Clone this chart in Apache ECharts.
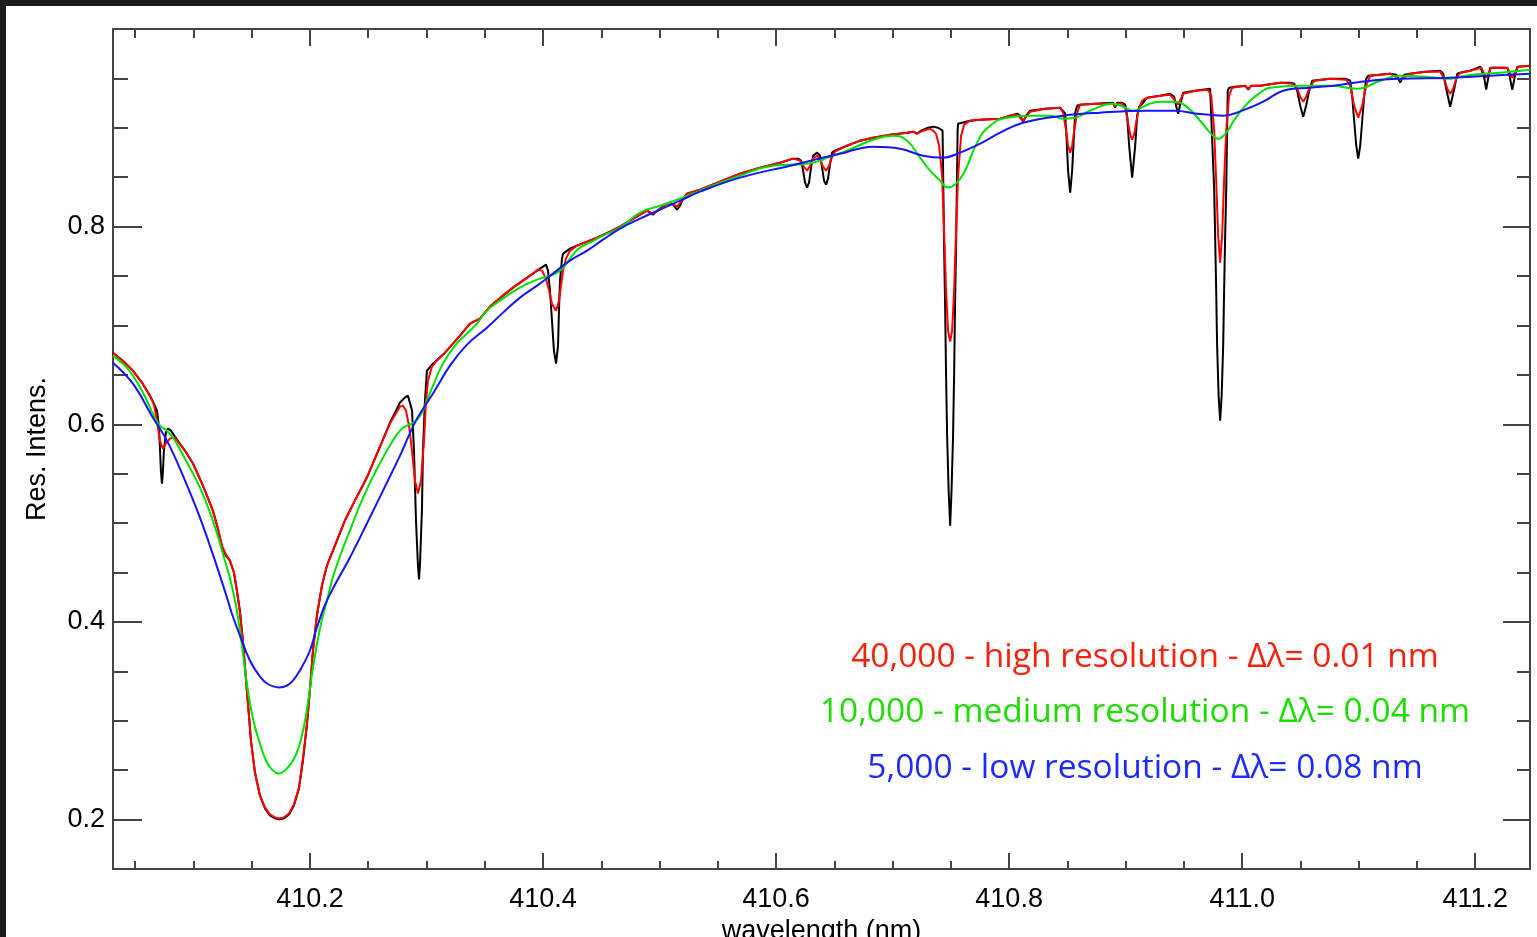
<!DOCTYPE html>
<html><head><meta charset="utf-8">
<script src="https://cdn.jsdelivr.net/npm/echarts@6/dist/echarts.min.js"></script>
<style>
html,body{margin:0;padding:0;background:#fff;overflow:hidden}
#c{position:absolute;left:0;top:0;width:1537px;height:937px;background:#fff}
.bar{position:absolute;background:#1c1c1c}
</style></head><body>
<div id="c"></div>
<div class="bar" style="left:0;top:0;width:1537px;height:6px"></div>
<div class="bar" style="left:0;top:0;width:6px;height:937px"></div>
<script>
// wavelength (nm), residual intensity
const spectrumFull = [[410.0309,0.6725],[410.0412,0.6624],[410.0481,0.6543],[410.0558,0.6422],[410.0627,0.6290],[410.0661,0.6209],[410.0687,0.6139],[410.0704,0.5987],[410.0712,0.5785],[410.0721,0.5532],[410.0730,0.5400],[410.0738,0.5512],[410.0747,0.5734],[410.0764,0.5916],[410.0781,0.5957],[410.0807,0.5936],[410.0841,0.5876],[410.0927,0.5734],[410.0996,0.5603],[410.1082,0.5380],[410.1167,0.5127],[410.1210,0.4945],[410.1245,0.4753],[410.1279,0.4672],[410.1313,0.4621],[410.1348,0.4500],[410.1373,0.4318],[410.1399,0.4115],[410.1425,0.3812],[410.1459,0.3306],[410.1494,0.2800],[410.1528,0.2477],[410.1571,0.2244],[410.1614,0.2113],[410.1657,0.2042],[410.1700,0.2012],[410.1734,0.2002],[410.1777,0.2012],[410.1820,0.2052],[410.1863,0.2143],[410.1906,0.2315],[410.1940,0.2598],[410.1974,0.2952],[410.2000,0.3306],[410.2026,0.3711],[410.2060,0.4065],[410.2103,0.4368],[410.2146,0.4571],[410.2197,0.4722],[410.2300,0.5026],[410.2386,0.5228],[410.2489,0.5461],[410.2601,0.5775],[410.2687,0.6017],[410.2773,0.6220],[410.2815,0.6270],[410.2841,0.6290],[410.2858,0.6270],[410.2876,0.6139],[410.2893,0.5734],[410.2910,0.5026],[410.2927,0.4571],[410.2936,0.4429],[410.2944,0.4571],[410.2961,0.5127],[410.2970,0.5734],[410.2987,0.6240],[410.3004,0.6543],[410.3056,0.6614],[410.3159,0.6725],[410.3288,0.6897],[410.3373,0.7019],[410.3459,0.7069],[410.3545,0.7191],[410.3657,0.7302],[410.3743,0.7383],[410.3828,0.7454],[410.3914,0.7525],[410.3974,0.7575],[410.4000,0.7595],[410.4026,0.7616],[410.4043,0.7555],[410.4060,0.7353],[410.4077,0.7049],[410.4094,0.6746],[410.4112,0.6614],[410.4129,0.6796],[410.4137,0.7150],[410.4146,0.7454],[410.4163,0.7676],[410.4172,0.7727],[410.4232,0.7777],[410.4292,0.7808],[410.4378,0.7848],[410.4464,0.7889],[410.4575,0.7949],[410.4661,0.8000],[410.4747,0.8061],[410.4833,0.8121],[410.4893,0.8162],[410.4918,0.8142],[410.4944,0.8121],[410.4970,0.8152],[410.5004,0.8182],[410.5064,0.8233],[410.5090,0.8233],[410.5116,0.8223],[410.5150,0.8172],[410.5176,0.8212],[410.5202,0.8283],[410.5236,0.8334],[410.5348,0.8374],[410.5519,0.8455],[410.5691,0.8536],[410.5863,0.8597],[410.6034,0.8647],[410.6146,0.8688],[410.6189,0.8688],[410.6215,0.8668],[410.6232,0.8567],[410.6249,0.8445],[410.6266,0.8395],[410.6283,0.8445],[410.6300,0.8597],[410.6318,0.8718],[410.6352,0.8749],[410.6378,0.8718],[410.6395,0.8597],[410.6412,0.8465],[410.6429,0.8425],[410.6446,0.8486],[410.6464,0.8637],[410.6481,0.8749],[410.6506,0.8769],[410.6609,0.8819],[410.6721,0.8870],[410.6833,0.8900],[410.6979,0.8931],[410.7124,0.8951],[410.7176,0.8961],[410.7210,0.8941],[410.7245,0.8971],[410.7305,0.9001],[410.7348,0.9012],[410.7391,0.9001],[410.7429,0.8971],[410.7442,0.7808],[410.7451,0.7191],[410.7459,0.6493],[410.7468,0.5886],[410.7481,0.5329],[410.7494,0.4975],[410.7506,0.5329],[410.7519,0.5886],[410.7528,0.6493],[410.7536,0.7191],[410.7545,0.7808],[410.7558,0.8971],[410.7562,0.9042],[410.7579,0.9052],[410.7665,0.9072],[410.7751,0.9082],[410.7923,0.9093],[410.8009,0.9123],[410.8069,0.9143],[410.8094,0.9123],[410.8120,0.9062],[410.8146,0.9123],[410.8180,0.9173],[410.8309,0.9194],[410.8438,0.9204],[410.8455,0.9194],[410.8481,0.9143],[410.8494,0.8870],[410.8506,0.8567],[410.8524,0.8344],[410.8541,0.8567],[410.8554,0.8870],[410.8567,0.9153],[410.8584,0.9224],[410.8609,0.9234],[410.8738,0.9244],[410.8893,0.9254],[410.8910,0.9204],[410.8927,0.9254],[410.8970,0.9254],[410.8996,0.9234],[410.9013,0.9123],[410.9030,0.8819],[410.9056,0.8496],[410.9082,0.8819],[410.9099,0.9123],[410.9116,0.9214],[410.9150,0.9254],[410.9185,0.9305],[410.9296,0.9325],[410.9382,0.9345],[410.9416,0.9315],[410.9433,0.9224],[410.9451,0.9143],[410.9468,0.9234],[410.9494,0.9356],[410.9597,0.9376],[410.9725,0.9396],[410.9742,0.9376],[410.9760,0.8364],[410.9768,0.7909],[410.9777,0.7353],[410.9785,0.6796],[410.9798,0.6290],[410.9811,0.6037],[410.9824,0.6290],[410.9837,0.6796],[410.9845,0.7353],[410.9854,0.7909],[410.9863,0.8364],[410.9876,0.9376],[410.9888,0.9406],[410.9940,0.9416],[411.0026,0.9426],[411.0052,0.9386],[411.0077,0.9426],[411.0155,0.9426],[411.0326,0.9457],[411.0412,0.9457],[411.0446,0.9447],[411.0472,0.9376],[411.0498,0.9224],[411.0524,0.9113],[411.0549,0.9224],[411.0575,0.9376],[411.0601,0.9477],[411.0755,0.9497],[411.0884,0.9497],[411.0927,0.9477],[411.0944,0.9325],[411.0961,0.9072],[411.0979,0.8819],[411.0996,0.8688],[411.1013,0.8819],[411.1030,0.9072],[411.1047,0.9325],[411.1064,0.9497],[411.1082,0.9528],[411.1270,0.9548],[411.1322,0.9538],[411.1356,0.9457],[411.1391,0.9538],[411.1442,0.9548],[411.1571,0.9568],[411.1700,0.9578],[411.1725,0.9548],[411.1751,0.9396],[411.1785,0.9214],[411.1820,0.9396],[411.1846,0.9548],[411.1871,0.9558],[411.1957,0.9578],[411.2043,0.9619],[411.2060,0.9608],[411.2077,0.9507],[411.2094,0.9386],[411.2112,0.9507],[411.2129,0.9608],[411.2215,0.9608],[411.2275,0.9608],[411.2292,0.9538],[411.2318,0.9386],[411.2343,0.9538],[411.2361,0.9619],[411.2472,0.9629]];

const spectrumHigh = [[410.0309,0.6725],[410.0412,0.6624],[410.0481,0.6543],[410.0558,0.6422],[410.0627,0.6290],[410.0661,0.6199],[410.0687,0.6037],[410.0712,0.5835],[410.0738,0.5754],[410.0764,0.5805],[410.0798,0.5855],[410.0841,0.5866],[410.0927,0.5734],[410.0996,0.5603],[410.1082,0.5380],[410.1167,0.5127],[410.1210,0.4945],[410.1245,0.4773],[410.1279,0.4682],[410.1313,0.4621],[410.1348,0.4500],[410.1373,0.4318],[410.1399,0.4095],[410.1425,0.3792],[410.1459,0.3306],[410.1494,0.2800],[410.1528,0.2477],[410.1571,0.2244],[410.1614,0.2123],[410.1657,0.2052],[410.1700,0.2022],[410.1734,0.2012],[410.1777,0.2022],[410.1820,0.2062],[410.1863,0.2153],[410.1906,0.2325],[410.1940,0.2618],[410.1974,0.2972],[410.2000,0.3327],[410.2026,0.3711],[410.2060,0.4065],[410.2103,0.4368],[410.2146,0.4571],[410.2197,0.4722],[410.2300,0.5026],[410.2386,0.5228],[410.2489,0.5461],[410.2601,0.5775],[410.2687,0.6007],[410.2773,0.6179],[410.2798,0.6189],[410.2824,0.6139],[410.2850,0.5987],[410.2876,0.5734],[410.2901,0.5431],[410.2927,0.5299],[410.2953,0.5431],[410.2979,0.5835],[410.2996,0.6240],[410.3013,0.6442],[410.3047,0.6584],[410.3082,0.6634],[410.3159,0.6725],[410.3288,0.6897],[410.3373,0.7019],[410.3459,0.7069],[410.3545,0.7191],[410.3657,0.7302],[410.3743,0.7383],[410.3828,0.7454],[410.3914,0.7525],[410.3957,0.7565],[410.3991,0.7555],[410.4026,0.7474],[410.4052,0.7353],[410.4077,0.7221],[410.4112,0.7150],[410.4137,0.7251],[410.4155,0.7403],[410.4172,0.7555],[410.4197,0.7676],[410.4232,0.7757],[410.4292,0.7808],[410.4378,0.7848],[410.4464,0.7889],[410.4575,0.7949],[410.4661,0.8000],[410.4747,0.8061],[410.4833,0.8121],[410.4893,0.8162],[410.4944,0.8132],[410.4987,0.8162],[410.5064,0.8233],[410.5107,0.8233],[410.5150,0.8202],[410.5193,0.8263],[410.5236,0.8334],[410.5348,0.8374],[410.5519,0.8455],[410.5691,0.8536],[410.5863,0.8597],[410.6034,0.8647],[410.6146,0.8688],[410.6206,0.8668],[410.6232,0.8617],[410.6266,0.8567],[410.6292,0.8617],[410.6318,0.8688],[410.6352,0.8718],[410.6378,0.8678],[410.6403,0.8607],[410.6429,0.8567],[410.6455,0.8617],[410.6481,0.8708],[410.6506,0.8759],[410.6609,0.8819],[410.6721,0.8870],[410.6833,0.8900],[410.6979,0.8931],[410.7124,0.8951],[410.7176,0.8961],[410.7210,0.8941],[410.7245,0.8961],[410.7288,0.8981],[410.7322,0.8991],[410.7348,0.8971],[410.7373,0.8941],[410.7399,0.8819],[410.7425,0.8516],[410.7442,0.7960],[410.7459,0.7353],[410.7476,0.6948],[410.7494,0.6837],[410.7511,0.6948],[410.7528,0.7353],[410.7545,0.7960],[410.7562,0.8516],[410.7588,0.8921],[410.7614,0.9032],[410.7665,0.9072],[410.7751,0.9082],[410.7923,0.9093],[410.8009,0.9123],[410.8069,0.9133],[410.8120,0.9072],[410.8180,0.9163],[410.8309,0.9194],[410.8438,0.9204],[410.8464,0.9153],[410.8489,0.8971],[410.8506,0.8819],[410.8524,0.8749],[410.8541,0.8819],[410.8558,0.8971],[410.8584,0.9153],[410.8609,0.9234],[410.8738,0.9244],[410.8893,0.9244],[410.8910,0.9214],[410.8927,0.9244],[410.8970,0.9244],[410.8996,0.9204],[410.9021,0.9052],[410.9039,0.8931],[410.9056,0.8880],[410.9073,0.8931],[410.9090,0.9052],[410.9116,0.9204],[410.9142,0.9275],[410.9185,0.9305],[410.9296,0.9325],[410.9382,0.9335],[410.9451,0.9234],[410.9494,0.9345],[410.9597,0.9376],[410.9708,0.9386],[410.9734,0.9325],[410.9760,0.8971],[410.9777,0.8465],[410.9794,0.7909],[410.9811,0.7636],[410.9828,0.7909],[410.9845,0.8465],[410.9863,0.8971],[410.9888,0.9325],[410.9914,0.9406],[411.0026,0.9426],[411.0052,0.9396],[411.0077,0.9426],[411.0155,0.9426],[411.0326,0.9457],[411.0429,0.9447],[411.0472,0.9396],[411.0498,0.9315],[411.0524,0.9264],[411.0549,0.9315],[411.0575,0.9396],[411.0618,0.9477],[411.0755,0.9497],[411.0893,0.9487],[411.0927,0.9426],[411.0961,0.9224],[411.0996,0.9103],[411.1030,0.9224],[411.1064,0.9426],[411.1099,0.9528],[411.1270,0.9548],[411.1356,0.9487],[411.1442,0.9548],[411.1571,0.9568],[411.1700,0.9568],[411.1734,0.9497],[411.1760,0.9396],[411.1785,0.9345],[411.1811,0.9396],[411.1837,0.9497],[411.1871,0.9558],[411.1957,0.9578],[411.2052,0.9608],[411.2077,0.9548],[411.2094,0.9507],[411.2112,0.9548],[411.2137,0.9608],[411.2275,0.9608],[411.2300,0.9548],[411.2318,0.9507],[411.2335,0.9548],[411.2369,0.9619],[411.2472,0.9629]];

const spectrumMedium = [[410.0309,0.6695],[410.0412,0.6594],[410.0481,0.6493],[410.0567,0.6321],[410.0652,0.6108],[410.0712,0.5987],[410.0773,0.5936],[410.0841,0.5835],[410.0927,0.5653],[410.1056,0.5360],[410.1167,0.5026],[410.1245,0.4722],[410.1339,0.4318],[410.1399,0.3913],[410.1459,0.3377],[410.1511,0.3023],[410.1571,0.2770],[410.1631,0.2578],[410.1682,0.2497],[410.1734,0.2467],[410.1785,0.2497],[410.1845,0.2578],[410.1888,0.2680],[410.1923,0.2810],[410.1966,0.3053],[410.2026,0.3539],[410.2086,0.3933],[410.2146,0.4217],[410.2215,0.4520],[410.2343,0.4925],[410.2472,0.5299],[410.2627,0.5663],[410.2712,0.5835],[410.2773,0.5936],[410.2833,0.5987],[410.2876,0.6007],[410.2927,0.6058],[410.2970,0.6139],[410.3004,0.6240],[410.3056,0.6392],[410.3142,0.6614],[410.3245,0.6796],[410.3348,0.6918],[410.3433,0.7019],[410.3519,0.7150],[410.3631,0.7251],[410.3717,0.7322],[410.3803,0.7383],[410.3888,0.7434],[410.3974,0.7474],[410.4060,0.7504],[410.4146,0.7555],[410.4206,0.7636],[410.4258,0.7717],[410.4318,0.7788],[410.4403,0.7838],[410.4515,0.7909],[410.4661,0.7990],[410.4833,0.8142],[410.5004,0.8212],[410.5176,0.8283],[410.5348,0.8364],[410.5691,0.8516],[410.5974,0.8617],[410.6120,0.8627],[410.6266,0.8637],[410.6378,0.8668],[410.6438,0.8698],[410.6609,0.8769],[410.6833,0.8880],[410.7004,0.8921],[410.7124,0.8870],[410.7236,0.8698],[410.7322,0.8567],[410.7408,0.8465],[410.7476,0.8395],[410.7545,0.8435],[410.7622,0.8567],[410.7725,0.8850],[410.7837,0.9022],[410.7983,0.9103],[410.8180,0.9123],[410.8352,0.9123],[410.8464,0.9093],[410.8567,0.9103],[410.8695,0.9173],[410.8893,0.9244],[410.8996,0.9204],[410.9064,0.9173],[410.9167,0.9224],[410.9296,0.9264],[410.9408,0.9264],[410.9511,0.9224],[410.9639,0.9072],[410.9725,0.8951],[410.9794,0.8890],[410.9863,0.8951],[410.9940,0.9093],[411.0043,0.9244],[411.0155,0.9356],[411.0240,0.9406],[411.0498,0.9426],[411.0755,0.9426],[411.0987,0.9396],[411.1185,0.9477],[411.1356,0.9528],[411.1571,0.9517],[411.1785,0.9497],[411.1914,0.9528],[411.2069,0.9548],[411.2215,0.9558],[411.2472,0.9588]];

const spectrumLow = [[410.0309,0.6624],[410.0481,0.6412],[410.0652,0.6068],[410.0773,0.5835],[410.0910,0.5481],[410.1056,0.5056],[410.1185,0.4621],[410.1288,0.4247],[410.1330,0.4085],[410.1399,0.3863],[410.1485,0.3610],[410.1571,0.3448],[410.1631,0.3377],[410.1734,0.3337],[410.1803,0.3357],[410.1854,0.3407],[410.1914,0.3509],[410.2000,0.3711],[410.2060,0.3944],[410.2146,0.4217],[410.2343,0.4652],[410.2489,0.4996],[410.2627,0.5329],[410.2773,0.5683],[410.2910,0.6037],[410.3056,0.6311],[410.3202,0.6594],[410.3348,0.6806],[410.3519,0.6978],[410.3657,0.7130],[410.3803,0.7282],[410.3949,0.7403],[410.4086,0.7525],[410.4232,0.7656],[410.4378,0.7757],[410.4515,0.7868],[410.4661,0.7980],[410.4833,0.8081],[410.5004,0.8172],[410.5176,0.8263],[410.5348,0.8354],[410.5691,0.8496],[410.6120,0.8617],[410.6335,0.8678],[410.6549,0.8738],[410.6833,0.8809],[410.7064,0.8789],[410.7262,0.8718],[410.7434,0.8698],[410.7579,0.8749],[410.7751,0.8840],[410.7923,0.8951],[410.8120,0.9052],[410.8464,0.9123],[410.8781,0.9153],[410.9185,0.9173],[410.9425,0.9173],[410.9614,0.9143],[410.9837,0.9123],[411.0043,0.9194],[411.0197,0.9275],[411.0352,0.9376],[411.0584,0.9406],[411.0781,0.9426],[411.1099,0.9477],[411.1356,0.9497],[411.1785,0.9507],[411.2129,0.9528],[411.2472,0.9548]];

const xMajorTicks = [410.2, 410.4, 410.6, 410.8, 411.0, 411.2];
const xMinorTicks = [410.05, 410.1, 410.15, 410.25, 410.3, 410.35, 410.45, 410.5, 410.55, 410.65, 410.7, 410.75, 410.85, 410.9, 410.95, 411.05, 411.1, 411.15];
const yMajorTicks = [0.2, 0.4, 0.6, 0.8];
const yMinorTicks = [0.15, 0.25, 0.3, 0.35, 0.45, 0.5, 0.55, 0.65, 0.7, 0.75, 0.85, 0.9, 0.95];
const xTitle = 'wavelength (nm)';
const yTitle = 'Res. Intens.';
const legendLines = [
  '40,000 - high resolution - Δλ= 0.01 nm',
  '10,000 - medium resolution - Δλ= 0.04 nm',
  '5,000 - low resolution - Δλ= 0.08 nm'
];
const legendColors = ['#f4240c', '#1edc00', '#1c2cff'];
const lineColors = ['#000000', '#ff0000', '#00e000', '#1414ff'];

const X_MIN = 410.031, X_MAX = 411.247, Y_MIN = 0.15, Y_MAX = 1.0;
const AX = '#444';
const LABEL_FONT = 'Liberation Sans, Arial, Helvetica, sans-serif';

function xAxisDef(pos, ticks, len, withLabels, withLine, extra) {
  return Object.assign({
    type: 'value', position: pos, min: X_MIN, max: X_MAX,
    axisLine: {show: withLine, onZero: false, lineStyle: {color: AX, width: 2}},
    axisTick: {show: true, inside: true, length: len, customValues: ticks, lineStyle: {color: AX, width: 2}},
    axisLabel: withLabels ? {show: true, customValues: ticks, margin: 17, color: '#000', fontSize: 27, fontFamily: LABEL_FONT,
      formatter: v => Number(v).toFixed(1)} : {show: false},
    splitLine: {show: false}
  }, extra || {});
}
function yAxisDef(pos, ticks, len, withLabels, withLine, extra) {
  return Object.assign({
    type: 'value', position: pos, min: Y_MIN, max: Y_MAX,
    axisLine: {show: withLine, onZero: false, lineStyle: {color: AX, width: 2}},
    axisTick: {show: true, inside: true, length: len, customValues: ticks, lineStyle: {color: AX, width: 2}},
    axisLabel: withLabels ? {show: true, customValues: ticks, margin: 8, color: '#000', fontSize: 27, fontFamily: LABEL_FONT,
      formatter: v => Number(v).toFixed(1)} : {show: false},
    splitLine: {show: false}
  }, extra || {});
}

const chart = echarts.init(document.getElementById('c'), null, {renderer: 'canvas'});
const option = {
  animation: false,
  backgroundColor: '#ffffff',
  grid: {left: 113, right: 7, top: 29, bottom: 68, containLabel: false, outerBoundsMode: 'none'},
  xAxis: [
    xAxisDef('bottom', xMajorTicks, 16, true, true, {
      name: xTitle, nameLocation: 'middle', nameGap: 39,
      nameTextStyle: {color: '#000', fontSize: 27, fontFamily: LABEL_FONT}
    }),
    xAxisDef('bottom', xMinorTicks, 8, false, false),
    xAxisDef('top', xMajorTicks, 17, false, true),
    xAxisDef('top', xMinorTicks, 9, false, false)
  ],
  yAxis: [
    yAxisDef('left', yMajorTicks, 29, true, true, {
      name: yTitle, nameLocation: 'middle', nameGap: 62,
      nameTextStyle: {color: '#000', fontSize: 27, fontFamily: LABEL_FONT}
    }),
    yAxisDef('left', yMinorTicks, 15, false, false),
    yAxisDef('right', yMajorTicks, 27, false, true),
    yAxisDef('right', yMinorTicks, 13, false, false)
  ],
  series: [
    {name: 'intrinsic', data: spectrumFull, color: lineColors[0]},
    {name: legendLines[0], data: spectrumHigh, color: lineColors[1]},
    {name: legendLines[1], data: spectrumMedium, color: lineColors[2], smooth: 0.5},
    {name: legendLines[2], data: spectrumLow, color: lineColors[3], smooth: 0.4}
  ].map((s, i) => Object.assign({
    type: 'line', xAxisIndex: 0, yAxisIndex: 0, showSymbol: false, symbol: 'none',
    lineStyle: {width: 2, color: s.color}, z: 2 + i, clip: true
  }, s)),
  graphic: legendLines.map((t, i) => ({
    type: 'text', x: 1145, y: 657 + i * 55.5, z: 100,
    style: {text: t, fill: legendColors[i], font: '400 33.5px "Open Sans", Lato, sans-serif',
      textAlign: 'center', textVerticalAlign: 'middle', align: 'center', verticalAlign: 'middle'}
  }))
};
chart.setOption(option);
</script>
</body></html>
